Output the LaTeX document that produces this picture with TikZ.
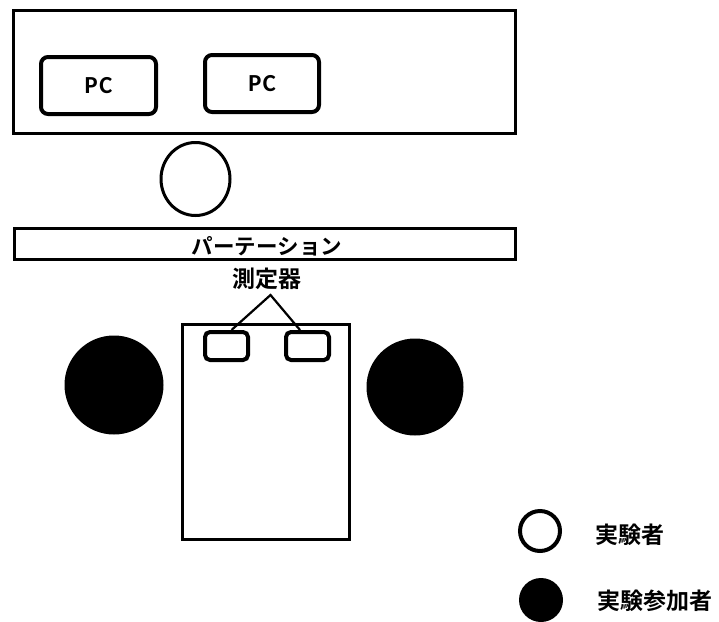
\documentclass[tikz,border=0pt]{standalone}
\usepackage{fontspec}
\newfontfamily\jp{Noto Sans CJK JP}[BoldFont={Noto Sans CJK JP Bold}]
\newfontfamily\pcfont{Carlito}
\begin{document}
\begin{tikzpicture}[x=1pt,y=-1pt,
  frame/.style={draw, line width=2.8pt, inner sep=0pt},
  rbox/.style={draw, line width=4pt, rounded corners=7pt, inner sep=0pt},
  pclabel/.style={font=\pcfont\bfseries\fontsize{24.5}{24.5}\selectfont},
  jplabel/.style={font=\jp\bfseries\fontsize{23}{23}\selectfont, inner sep=0pt},
  conn/.style={line width=2.2pt},
  person/.style={line width=3pt}]
\useasboundingbox (0,0) rectangle (719,621);
% top desk
\node[frame, minimum width=502.2pt, minimum height=123.2pt] (desk) at (264.5,72) {};
\node[rbox, minimum width=115pt, minimum height=57pt] (pc1) at (98.5,85.5) {};
\node[pclabel] at (pc1.center) {P\kern1.5pt C};
\node[rbox, minimum width=114pt, minimum height=57pt] (pc2) at (262,83.5) {};
\node[pclabel] at (pc2.center) {P\kern1.5pt C};
% experimenter
\draw[person] (195.5,179) ellipse [x radius=34.5pt, y radius=36.5pt];
% partition
\node[frame, minimum width=501.4pt, minimum height=31.2pt] (part) at (265,244) {};
\node[jplabel, font=\jp\bfseries\fontsize{21.5}{21.5}\selectfont] (parttext) at (267,246.5) {パーテーション};
% measuring devices
\node[jplabel] (meas) at (267,279) {測定器};
\node[frame, minimum width=167.2pt, minimum height=214.7pt] (table) at (266,431.75) {};
\node[rbox, rounded corners=5pt, minimum width=43pt, minimum height=28pt] (devL) at (226.5,346) {};
\node[rbox, rounded corners=5pt, minimum width=43pt, minimum height=28pt] (devR) at (307.5,346) {};
\coordinate (apex) at (270.5,295);
\draw[conn] ([xshift=5pt]devL.north) -- (apex) -- ([xshift=-7.5pt]devR.north);
% participants
\fill (114,385) circle [radius=49.5pt];
\fill (415,387) circle [radius=48.5pt];
% legend
\draw[line width=4pt] (540,531) circle [radius=20pt];
\node[jplabel] (lg1) at (629.5,534.5) {実験者};
\fill (541,600) circle [radius=22pt];
\node[jplabel] (lg2) at (655,601) {実験参加者};
\end{tikzpicture}
\end{document}
